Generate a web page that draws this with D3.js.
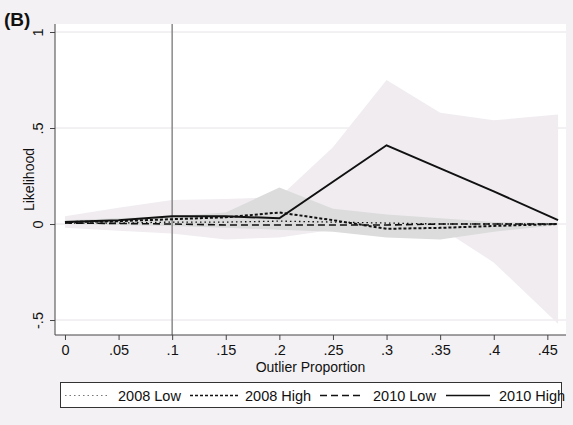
<!DOCTYPE html>
<html>
<head>
<meta charset="utf-8">
<script src="https://cdn.jsdelivr.net/npm/d3@7"></script>
<style>
  body { margin: 0; background: #f4f1f4; }
  svg { display: block; font-family: "Liberation Sans", Arial, sans-serif; }
</style>
</head>
<body>
<svg></svg>
<script>
"use strict"

// outlier proportions where the estimates are taken
const props = [0, .05, .1, .15, .2, .25, .3, .35, .4, .46]

// point estimates
const low2008  = [0.005, 0.005, 0.01, 0.01, 0.015, 0.01, 0.005, 0.0, 0.0, 0.0]
const high2008 = [0.01, 0.015, 0.025, 0.035, 0.06, 0.02, -0.025, -0.02, -0.01, 0.0]
const low2010  = [0.005, 0.003, 0.0, -0.005, -0.005, -0.005, -0.005, 0.0, 0.0, 0.0]
const high2010 = [0.01, 0.02, 0.04, 0.04, 0.03, 0.22, 0.41, 0.29, 0.17, 0.02]

// confidence bands
const high2010Upper = [0.04, 0.085, 0.125, 0.13, 0.14, 0.40, 0.75, 0.58, 0.54, 0.57]
const high2010Lower = [-0.02, -0.035, -0.05, -0.08, -0.07, -0.03, 0.0, -0.02, -0.2, -0.52]
const high2008Upper = [0.02, 0.03, 0.04, 0.06, 0.19, 0.08, 0.05, 0.03, 0.01, 0.005]
const high2008Lower = [0.0, -0.005, -0.01, -0.02, -0.03, -0.04, -0.07, -0.08, -0.04, -0.005]

const xTicks = [0, .05, .1, .15, .2, .25, .3, .35, .4, .45]
const xTickLabels = ["0", ".05", ".1", ".15", ".2", ".25", ".3", ".35", ".4", ".45"]
const yTicks = [-.5, 0, .5, 1]
const yTickLabels = ["-.5", "0", ".5", "1"]
const cutoff = .1

const legendItems = ["2008 Low", "2008 High", "2010 Low", "2010 High"]

let width = 573, height = 425
let svg = d3.select("svg").attr("width", width).attr("height", height)

let plot = {left: 55, right: 566, top: 24, bottom: 335}

let x = d3.scaleLinear().domain([-0.0093, 0.4674]).range([plot.left, plot.right])
let y = d3.scaleLinear().domain([-0.578, 1.0417]).range([plot.bottom, plot.top])

/* plot region */
svg.append("rect")
  .attr("x", plot.left).attr("y", plot.top)
  .attr("width", plot.right - plot.left).attr("height", plot.bottom - plot.top)
  .attr("fill", "#fff")

/* grid */
svg.append("g").selectAll("line").data(yTicks).enter().append("line")
  .attr("x1", plot.left).attr("x2", plot.right)
  .attr("y1", d => y(d)).attr("y2", d => y(d))
  .attr("stroke", "#e6e3e6").attr("stroke-width", 1)

/* bands */
let band = (lo, hi) => d3.area()
  .x((d, i) => x(props[i]))
  .y0((d, i) => y(lo[i]))
  .y1((d, i) => y(hi[i]))(props)

svg.append("path").attr("d", band(high2010Lower, high2010Upper)).attr("fill", "#f0ecf0")
svg.append("path").attr("d", band(high2008Lower, high2008Upper)).attr("fill", "#dcdcdc")

/* cutoff line */
svg.append("line")
  .attr("x1", x(cutoff)).attr("x2", x(cutoff))
  .attr("y1", plot.top).attr("y2", plot.bottom)
  .attr("stroke", "#8a8a8a").attr("stroke-width", 1.5)

/* series */
let series = [
  {name: legendItems[0], values: low2008,  dash: "1.5,3", w: 1.3},
  {name: legendItems[1], values: high2008, dash: "3,2",   w: 2},
  {name: legendItems[2], values: low2010,  dash: "7,4",   w: 1.6},
  {name: legendItems[3], values: high2010, dash: null,    w: 2}
]

let line = vals => d3.line()
  .x((d, i) => x(props[i]))
  .y((d, i) => y(vals[i]))(props)

series.forEach(s => {
  svg.append("path")
    .attr("d", line(s.values))
    .attr("fill", "none")
    .attr("stroke", "#111")
    .attr("stroke-width", s.w)
    .attr("stroke-dasharray", s.dash)
})

/* axes */
let xAxis = svg.append("g")
  .attr("transform", "translate(0," + plot.bottom + ")")
  .call(d3.axisBottom(x).tickValues(xTicks).tickSize(5).tickFormat((d, i) => xTickLabels[i]))
xAxis.select(".domain").attr("d", "M" + plot.left + ",0H" + plot.right).attr("stroke", "#444")
xAxis.selectAll(".tick line").attr("stroke", "#444")
xAxis.selectAll("text").attr("font-size", 14.5).attr("fill", "#111").attr("dy", "0.85em")
  .style("font-family", "Liberation Sans, Arial, sans-serif")

let yAxis = svg.append("g")
  .attr("transform", "translate(" + plot.left + ",0)")
  .call(d3.axisLeft(y).tickValues(yTicks).tickSize(5).tickFormat((d, i) => yTickLabels[i]))
yAxis.select(".domain").attr("d", "M0," + plot.top + "V" + plot.bottom).attr("stroke", "#444")
yAxis.selectAll(".tick line").attr("stroke", "#444")
yAxis.selectAll("text")
  .attr("x", null).attr("dy", null)
  .attr("text-anchor", "middle")
  .attr("transform", "translate(-12,0) rotate(-90)")
  .attr("font-size", 14.5).attr("fill", "#111")
  .style("font-family", "Liberation Sans, Arial, sans-serif")

/* titles */
svg.append("text")
  .attr("transform", "translate(34," + (plot.top + plot.bottom) / 2 + ") rotate(-90)")
  .attr("text-anchor", "middle").attr("font-size", 14).attr("fill", "#111")
  .text("Likelihood")

svg.append("text")
  .attr("x", (plot.left + plot.right) / 2).attr("y", 372)
  .attr("text-anchor", "middle").attr("font-size", 14).attr("fill", "#111")
  .text("Outlier Proportion")

svg.append("text")
  .attr("x", 4).attr("y", 26)
  .attr("font-size", 19).attr("font-weight", "bold").attr("fill", "#111")
  .text("(B)")

/* legend */
let legend = svg.append("g")
legend.append("rect")
  .attr("x", 60.5).attr("y", 382.5).attr("width", 501).attr("height", 25)
  .attr("fill", "#fff").attr("stroke", "#333").attr("stroke-width", 1)

let legendX = [65, 190, 320, 446]
series.forEach((s, i) => {
  legend.append("line")
    .attr("x1", legendX[i]).attr("x2", legendX[i] + (i == 1 ? 48 : 44))
    .attr("y1", 395.5).attr("y2", 395.5)
    .attr("stroke", i == 0 ? "#777" : "#111")
    .attr("stroke-width", i == 0 ? 1.2 : 1.5)
    .attr("stroke-dasharray", s.dash)
  legend.append("text")
    .attr("x", legendX[i] + (i == 1 ? 55 : 53)).attr("y", 400.5)
    .attr("font-size", 14.5).attr("fill", "#111")
    .text(s.name)
})
</script>
</body>
</html>
